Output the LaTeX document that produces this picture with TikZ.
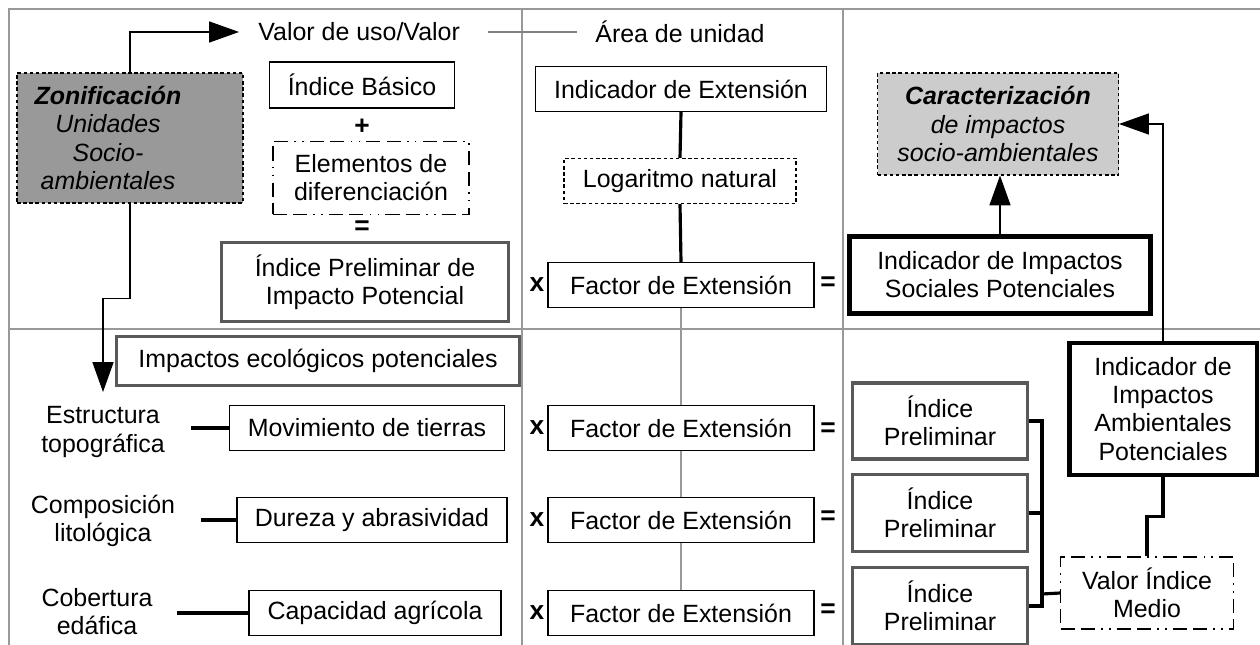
\documentclass[tikz,border=0pt]{standalone}
\usepackage{fontspec}
\setmainfont{Liberation Sans}
\usetikzlibrary{arrows.meta}
\newlength{\pxu}
\setlength{\pxu}{0.02cm}
\tikzset{
  sz/.style 2 args={minimum width=#1*\pxu, minimum height=#2*\pxu},
  thinbox/.style={draw, line width=0.6pt, inner sep=1pt, align=center},
  greybox/.style={draw=black!65, line width=1.8pt, inner sep=1pt, align=center},
  blackbox/.style={draw, line width=2.3pt, inner sep=1pt, align=center},
  ddbox/.style={draw, line width=0.6pt, inner sep=1pt, align=center,
    dash pattern=on 8pt off 3.5pt on 8pt off 3.5pt on 1pt off 3.5pt on 1pt off 3.5pt},
  dotbox/.style={draw, line width=0.6pt, inner sep=1pt, align=center, dash pattern=on 2pt off 1.5pt},
  gridline/.style={black!40, line width=0.6pt},
  bar/.style={line width=1.8pt},
  arr/.style={line width=0.6pt, -{Triangle[length=17pt,width=12pt]}},
  sign/.style={font=\fontsize{15}{16}\selectfont\bfseries, inner sep=0pt},
}
\begin{document}
\begin{tikzpicture}[x=0.02cm, y=-0.02cm, font=\fontsize{14.2}{16}\selectfont]
 \useasboundingbox (0,0) rectangle (1260,645);
 % frame
 \draw[gridline] (9,645) -- (9,9) -- (1260,9);
 \draw[gridline] (9,329) -- (1260,329);
 \draw[gridline] (522,9) -- (522,645);
 \draw[gridline] (843,9) -- (843,645);

 % upper left
 \node[inner sep=0pt, anchor=west] (valor) at (258,32) {Valor de uso/Valor};
 \node[inner sep=0pt, anchor=west] (area) at (595,32) {Área de unidad};
 \draw[black!50, line width=1.7pt] ([xshift=28*\pxu]valor.east) -- ([xshift=-18*\pxu]area.west);

 \node[dotbox, fill=black!40, sz={226}{130}] (zon) at (130,138) {};
 \node[align=center, inner sep=0pt] (zontxt) at (108,138)
   {\textbf{\textit{Zonificación}}\\\textit{Unidades}\\\textit{Socio-}\\\textit{ambientales}};
 \draw[arr] (zon.north) |- ([xshift=-19*\pxu]valor.west);

 \node[thinbox, sz={185}{46}] (basico) at (362,85) {Índice Básico};
 \node[sign] (plus) at (362,127) {+};
 \node[ddbox, sz={196}{73}] (elem) at (371,178) {Elementos de\\diferenciación};
 \node[sign] (eqa) at (362,228) {=};
 \node[greybox, sz={287}{79}] (ipip) at (365,282) {Índice Preliminar de\\Impacto Potencial};

 % upper middle
 \node[thinbox, sz={291}{45}] (indext) at (681,89) {Indicador de Extensión};
 \node[dotbox, sz={232}{45}] (loga) at (680,181) {Logaritmo natural};
 \node[thinbox, sz={266}{45}] (fac0) at (681,285) {Factor de Extensión};
 \node[sign] (x0) at (537,285) {x};
 \node[sign] (e0) at (828,284) {=};
 \draw[bar] (indext.south) -- (loga.north);
 \draw[bar] (loga.south) -- (fac0.north);

 % upper right
 \node[dotbox, fill=black!20, sz={241}{102}] (carac) at (998,124)
   {\textbf{\textit{Caracterización}}\\\textit{de impactos}\\\textit{socio-ambientales}};
 \node[blackbox, sz={301}{77}] (isp) at (1000,275) {Indicador de Impactos\\Sociales Potenciales};
 \draw[arr] (isp.north) -- (isp.north |- carac.south);

 % lower left
 \node[greybox, sz={403}{49}] (ieco) at (318,361) {Impactos ecológicos potenciales};
 \coordinate (ecotip) at (103,392);
 \draw[arr] (zon.south) -- ++(0,95) -| (ecotip);

 \node[align=center, inner sep=0pt] (lab1) at (103,432) {Estructura\\topográfica};
 \node[align=center, inner sep=0pt] (lab2) at (103,521) {Composición\\litológica};
 \node[align=center, inner sep=0pt] (lab3) at (97,612) {Cobertura\\edáfica};

 \node[thinbox, sz={275}{45}] (m1) at (367,428) {Movimiento de tierras};
 \node[thinbox, sz={270}{45}] (m2) at (372,520) {Dureza y abrasividad};
 \node[thinbox, sz={252}{45}] (m3) at (375,613) {Capacidad agrícola};
 \draw[bar] (m1.west) -- ++(-38,0);
 \draw[bar] (m2.west) -- ++(-35,0);
 \draw[bar] (m3.west) -- ++(-71,0);

 % lower middle
 \foreach \i/\y in {1/428,2/520,3/613}{
   \node[sign] (x\i) at (537,\y) {x};
   \node[thinbox, sz={266}{45}] (f\i) at (681,\y) {Factor de Extensión};
 }
 \node[sign] (e1) at (828,430) {=};
 \node[sign] (e2) at (828,518) {=};
 \node[sign] (e3) at (828,611) {=};
 \draw[gridline] (fac0.south) -- (f1.north) (f1.south) -- (f2.north) (f2.south) -- (f3.north);

 % lower right
 \node[greybox, sz={175}{76}] (ip1) at (940,421) {Índice\\Preliminar};
 \node[greybox, sz={175}{77}] (ip2) at (940,513) {Índice\\Preliminar};
 \node[greybox, sz={175}{77}] (ip3) at (940,606) {Índice\\Preliminar};
 \node[ddbox, sz={173}{72}] (vim) at (1147,593) {Valor Índice\\Medio};
 \node[blackbox, sz={187}{132}] (iap) at (1163,409) {Indicador de\\Impactos\\Ambientales\\Potenciales};

 \coordinate (brk) at (1042,594);
 \draw[bar] (ip1.east) -- (ip1.east -| brk) -- (ip3.east -| brk) -- (ip3.east);
 \draw[bar] (ip2.east) -- (ip2.east -| brk);
 \draw[bar] (brk) -- (vim.west);
 \draw[bar] (vim.north) -- ++(0,-40) -| (iap.south);
 \draw[arr] (iap.north) |- (carac.east);
\end{tikzpicture}
\end{document}
